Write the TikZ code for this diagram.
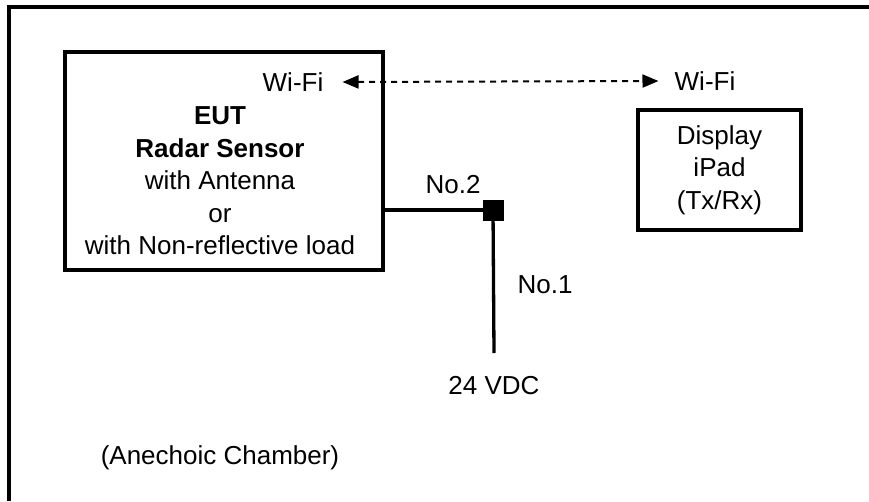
\documentclass[tikz,border=0pt]{standalone}
\usepackage{fontspec}
\setmainfont{Liberation Sans}
\usetikzlibrary{arrows.meta}

\tikzset{
    txt/.style={font=\fontsize{26}{32.5}\selectfont, inner sep=0pt, align=center},
    unitbox/.style={draw, line width=3.3pt, rectangle, inner sep=0pt},
    cable/.style={line width=3.3pt},
    wifilink/.style={line width=2pt, dash pattern=on 6pt off 5pt,
        {Triangle[length=16pt,width=13pt]}-{Triangle[length=16pt,width=13pt]}}
}

\begin{document}
\begin{tikzpicture}[x=1pt, y=-1pt]
    \useasboundingbox (0,0) rectangle (869,501);
    % chamber frame (only top and left edges shown)
    \draw[line width=3.8pt] (9,501) -- (9,7) -- (869,7);

    % EUT and display
    \node[unitbox, minimum width=318pt, minimum height=218pt] (eut) at (224,161) {};
    \node[txt] (eutwifi) at (293,82) {Wi-Fi};
    \node[txt] (euttext) at (220,181) {\textbf{EUT}\\\textbf{Radar Sensor}\\with Antenna\\or\\with Non-reflective load};
    \node[unitbox, txt, minimum width=163pt, minimum height=120pt] (ipad) at (719.5,170) {Display\\iPad\\(Tx/Rx)};
    \node[txt] (ipadwifi) at (705,81) {Wi-Fi};

    % radio link
    \draw[wifilink] ([xshift=19pt]eutwifi.east) -- ([xshift=-16pt]ipadwifi.west);

    % cabling
    \node[fill, minimum size=21pt, inner sep=0pt] (jn) at (493,210) {};
    \coordinate (vend) at (494,353);
    \draw[cable] (jn -| eut.east) -- (jn.center);
    \draw[cable] (jn.center) -- (vend);
    \node[txt] (no2) at (453,185) {No.2};
    \node[txt] (no1) at (545,285) {No.1};
    \node[txt] (vdc) at (494,386) {24 VDC};

    \node[txt] (room) at (220,458) {(Anechoic Chamber)};
\end{tikzpicture}
\end{document}
